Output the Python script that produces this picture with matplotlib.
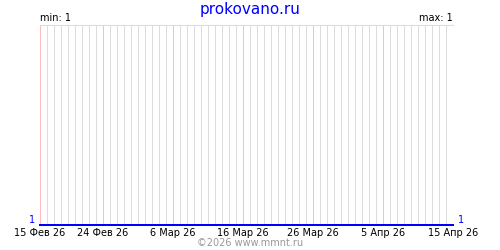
import datetime as dt
import matplotlib
matplotlib.use("Agg")
import matplotlib.pyplot as plt

# daily values, 15 Feb 2026 .. 15 Apr 2026
start = dt.date(2026, 2, 15)
days = [start + dt.timedelta(days=i) for i in range(60)]
values = [1, 1, 1, 1, 1, 1, 1, 1, 1, 1,
          1, 1, 1, 1, 1, 1, 1, 1, 1, 1,
          1, 1, 1, 1, 1, 1, 1, 1, 1, 1,
          1, 1, 1, 1, 1, 1, 1, 1, 1, 1,
          1, 1, 1, 1, 1, 1, 1, 1, 1, 1,
          1, 1, 1, 1, 1, 1, 1, 1, 1, 1]
label_days = [dt.date(2026, 2, 15), dt.date(2026, 2, 24), dt.date(2026, 3, 6),
              dt.date(2026, 3, 16), dt.date(2026, 3, 26), dt.date(2026, 4, 5),
              dt.date(2026, 4, 15)]
label_text = ["15 Фев 26", "24 Фев 26", "6 Мар 26", "16 Мар 26",
              "26 Мар 26", "5 Апр 26", "15 Апр 26"]
title = "prokovano.ru"
footer = "©2026 www.mmnt.ru"

blue = "#0000ff"
fig = plt.figure(figsize=(5, 2.5), dpi=100)
ax = fig.add_axes([0.08, 0.1, 0.826, 0.8])

# daily grid, pink at the labelled days
for d in days:
    if d in label_days:
        ax.axvline(d, color="#ffbcbc", linewidth=0.72, zorder=2, antialiased=False)
    else:
        ax.axvline(d, color="#dcdcdc", linewidth=0.72, zorder=1, antialiased=False)

ax.plot(days, values, color=blue, linewidth=1.2, zorder=3, clip_on=False,
        antialiased=False)

ax.set_xlim(days[0], days[-1])
ax.set_ylim(1, 2)
for s in ["left", "right", "bottom"]:
    ax.spines[s].set_visible(False)
ax.spines["top"].set_color("#dcdcdc")
ax.spines["top"].set_linewidth(0.8)

ax.set_xticks(label_days)
ax.set_xticklabels(label_text, fontsize=7)
ax.tick_params(axis="x", length=0, pad=2)
ax.set_yticks([])

ax.text(-0.012, 0, "1", transform=ax.transAxes, color=blue, fontsize=7,
        ha="right", va="bottom")
ax.text(1.012, 0, "1", transform=ax.transAxes, color=blue, fontsize=7,
        ha="left", va="bottom")
ax.text(0.0, 1.01, "min: 1", transform=ax.transAxes, fontsize=7,
        ha="left", va="bottom")
ax.text(1.0, 1.01, "max: 1", transform=ax.transAxes, fontsize=7,
        ha="right", va="bottom")

fig.text(0.5, 0.962, title, color=blue, fontsize=11, ha="center", va="center")
fig.text(0.5, 0.028, footer, color="#999999", fontsize=7, ha="center", va="center")

fig.savefig("out.png", dpi=100)
